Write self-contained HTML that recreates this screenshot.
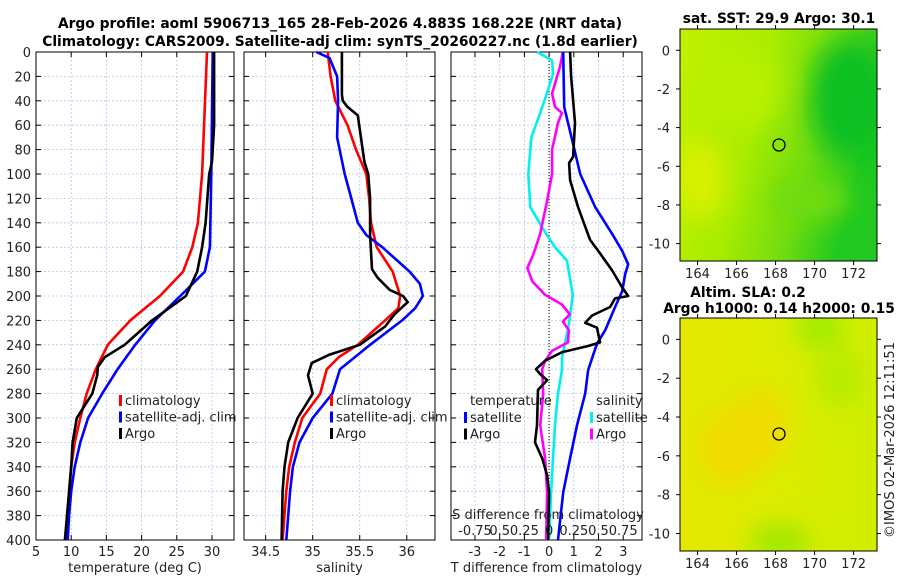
<!DOCTYPE html>
<html><head><meta charset="utf-8"><style>
body{margin:0;background:#fff}
svg{display:block;font-family:"DejaVu Sans","Liberation Sans",sans-serif}
.t{font-size:13px;fill:#222}
.b{font-size:13.8px;font-weight:bold;fill:#000}
</style></head><body>
<svg id="c" width="900" height="580" viewBox="0 0 900 580">
<defs>
<linearGradient id="sstg" x1="0" y1="0" x2="1" y2="0.3">
<stop offset="0" stop-color="#c4f000"/><stop offset="0.45" stop-color="#a8ec00"/><stop offset="0.75" stop-color="#70dc10"/><stop offset="1" stop-color="#20c820"/></linearGradient>
<linearGradient id="slag" x1="0" y1="0" x2="1" y2="0"><stop offset="0" stop-color="#e4e800"/><stop offset="0.5" stop-color="#dcec00"/><stop offset="1" stop-color="#d0ee00"/></linearGradient>
<filter id="bl"><feGaussianBlur stdDeviation="12"/></filter>
</defs>
<text class="b" x="340" y="28" text-anchor="middle">Argo profile: aoml 5906713_165 28-Feb-2026 4.883S 168.22E (NRT data)</text>
<text class="b" x="340" y="46" text-anchor="middle">Climatology: CARS2009. Satellite-adj clim: synTS_20260227.nc (1.8d earlier)</text>
<g id="p1"></g>
<g id="p2"></g>
<g id="p3"></g>
<g>
<text class="b" x="779" y="23" text-anchor="middle">sat. SST: 29.9 Argo: 30.1</text>
<svg x="680" y="29" width="197" height="232">
<rect width="197" height="232" fill="url(#sstg)"/>
<g filter="url(#bl)"><ellipse cx="20" cy="150" rx="25" ry="40" fill="#d8f000"/><ellipse cx="170" cy="70" rx="40" ry="60" fill="#10c020"/><ellipse cx="130" cy="170" rx="40" ry="20" fill="#70dc10"/><ellipse cx="60" cy="60" rx="40" ry="40" fill="#b8f000"/></g>
</svg>
<rect x="680" y="29" width="197" height="232" fill="none" stroke="#000"/>
<circle cx="779" cy="145" r="6" fill="none" stroke="#000" stroke-width="1.3"/>
<g id="m1ax"></g>
</g>
<g>
<text class="b" x="748" y="297" text-anchor="middle">Altim. SLA: 0.2</text>
<text class="b" x="779" y="313" text-anchor="middle">Argo h1000: 0.14 h2000: 0.15</text>
<svg x="680" y="318" width="197" height="233">
<rect width="197" height="233" fill="url(#slag)"/>
<g filter="url(#bl)"><ellipse cx="50" cy="130" rx="30" ry="40" fill="#f0dc00"/><ellipse cx="140" cy="10" rx="25" ry="20" fill="#a0ec00"/><ellipse cx="160" cy="60" rx="25" ry="30" fill="#b8ec00"/><ellipse cx="100" cy="225" rx="30" ry="20" fill="#a0e800"/><ellipse cx="80" cy="110" rx="30" ry="40" fill="#f0dc00"/></g>
</svg>
<rect x="680" y="318" width="197" height="233" fill="none" stroke="#000"/>
<circle cx="779" cy="434" r="6" fill="none" stroke="#000" stroke-width="1.3"/>
<g id="m2ax"></g>
</g>
<text class="t" transform="translate(894,440) rotate(-90)" text-anchor="middle">©IMOS 02-Mar-2026 12:11:51</text>
</svg>
<script>
// temperature panel data
const tRedDepth=[0,100,140,160,180,200,220,240,260,280,300,320,340,360,380,400];
const tRedVal=[29.3,28.6,28.0,27.2,25.9,22.6,18.4,15.2,13.5,12.2,11.3,10.5,10.0,9.7,9.5,9.3];
const tBlueDepth=[0,100,160,180,200,220,240,260,280,300,320,340,360,380,400];
const tBlueVal=[30.1,29.9,29.7,29.0,25.5,21.9,19.1,16.6,14.4,12.4,11.3,10.5,10.0,9.7,9.5];
const tArgoDepth=[0,60,90,100,140,160,180,200,220,240,250,258,265,280,300,320,340,360,400];
const tArgoVal=[30.3,30.3,30.0,29.6,29.1,28.6,27.9,26.3,21.5,17.6,14.8,13.8,13.7,13.0,10.8,10.2,10.0,9.7,9.1];
// salinity panel data
const sRedDepth=[0,20,40,60,80,100,120,140,160,180,200,210,220,240,250,260,280,300,320,340,360,400];
const sRedVal=[35.16,35.19,35.24,35.37,35.46,35.57,35.60,35.62,35.68,35.85,35.93,35.91,35.77,35.48,35.28,35.15,35.08,34.89,34.81,34.75,34.72,34.68];
const sBlueDepth=[0,5,20,40,70,100,120,140,150,160,180,190,200,210,220,240,260,280,300,320,340,360,400];
const sBlueVal=[35.04,35.18,35.26,35.27,35.26,35.34,35.41,35.48,35.57,35.74,36.03,36.14,36.17,36.09,35.95,35.61,35.29,35.21,35.0,34.86,34.79,34.76,34.72];
const sArgoDepth=[0,35,40,45,52,90,100,120,150,178,185,195,200,205,215,225,240,248,255,265,280,300,320,340,360,400];
const sArgoVal=[35.31,35.31,35.32,35.37,35.48,35.55,35.59,35.61,35.61,35.63,35.69,35.82,35.96,36.01,35.87,35.77,35.50,35.18,34.99,34.95,35.0,34.84,34.74,34.70,34.68,34.67];
// difference panel data
const dTSatDepth=[0,45,72,100,127,149,163,174,182,196,209,228,239,251,261,280,306,333,361,400];
const dTSatVal=[0.57,0.61,0.93,1.26,1.86,2.55,2.96,3.2,3.08,2.96,2.67,2.27,1.94,1.74,1.58,1.46,1.13,0.85,0.57,0.36];
const dTArgoDepth=[0,20,58,86,91,105,127,154,165,179,193,200,202,209,216,222,226,238,241,246,253,260,264,269,277,306,320,333,347,361,400];
const dTArgoVal=[0.85,0.89,1.05,0.97,0.81,0.85,1.17,1.66,2.06,2.55,2.96,3.2,2.67,2.47,1.74,1.46,1.94,2.06,1.58,0.53,-0.16,-0.53,-0.36,-0.08,-0.45,-0.49,-0.57,-0.28,-0.08,0,-0.04];
const dSSatDepth=[0,7,18,31,50,70,100,127,144,160,171,199,223,251,261,280,306,333,361,400];
const dSSatVal=[-0.12,0.03,0.04,-0.01,-0.09,-0.18,-0.21,-0.19,-0.07,0.06,0.18,0.24,0.2,0.13,0.13,0.09,0.06,0.04,0.02,0];
const dSArgoDepth=[0,12,34,45,50,58,80,100,122,149,166,177,188,199,207,215,221,228,238,245,253,260,280,306,333,361,400];
const dSArgoVal=[0.14,0.11,0.03,0.06,0.13,0.09,0.03,0.03,-0.02,-0.09,-0.16,-0.22,-0.17,-0.04,0.13,0.21,0.14,0.2,0.19,0.03,-0.04,-0.07,-0.06,-0.09,-0.04,-0.02,-0.03];
// ticks
const depthTicks=[0,20,40,60,80,100,120,140,160,180,200,220,240,260,280,300,320,340,360,380,400];
const tTicks=[5,10,15,20,25,30];
const sTicks=[34.5,35,35.5,36];
const dTicks=[-3,-2,-1,0,1,2,3];
const sdTicks=[-0.75,-0.5,-0.25,0,0.25,0.5,0.75];
const sdTickLabels=["-0.75","0.5","0.25","0","0.25","0.5","0.75"];
const lonTicks=[164,166,168,170,172];
const latTicks=[0,-2,-4,-6,-8,-10];

const NS='http://www.w3.org/2000/svg';
function mk(parent,tag,attrs){const e=document.createElementNS(NS,tag);for(const k in attrs)e.setAttribute(k,attrs[k]);parent.appendChild(e);return e;}
const Y0=52,Y1=540;
const yD=d=>Y0+(d/400)*(Y1-Y0);
function panel(g,x0,x1,v0,v1,ticks,labels,xlabel,showY){
  const xS=v=>x0+(v-v0)/(v1-v0)*(x1-x0);
  for(const t of ticks){const gl=mk(g,'line',{x1:xS(t),x2:xS(t),y1:Y0,y2:Y1,stroke:'#b8c4e8','stroke-width':0.8,'stroke-dasharray':'2,2'});
    }
  for(const d of depthTicks){const gl=mk(g,'line',{x1:x0,x2:x1,y1:yD(d),y2:yD(d),stroke:'#b8c4e8','stroke-width':0.8,'stroke-dasharray':'2,2'});
    
    for(const xx of [[x0,x0+5],[x1-5,x1]]){const tk=mk(g,'line',{x1:xx[0],x2:xx[1],y1:yD(d),y2:yD(d),stroke:'#000'});
    }
    if(showY){const tl=mk(g,'text',{x:x0-5,y:yD(d)+5,'text-anchor':'end',class:'t'});tl.textContent=d;
    }}
  ticks.forEach((t,i)=>{for(const yy of [[Y0,Y0+5],[Y1-5,Y1]]){const tk=mk(g,'line',{x1:xS(t),x2:xS(t),y1:yy[0],y2:yy[1],stroke:'#000'});
    }
    if(labels){const tl=mk(g,'text',{x:xS(t),y:556,'text-anchor':'middle',class:'t'});tl.textContent=labels[i];
    }});
  const xl=mk(g,'text',{x:(x0+x1)/2,y:572,'text-anchor':'middle',class:'t'});xl.textContent=xlabel;
  
  const fr=mk(g,'rect',{x:x0,y:Y0,width:x1-x0,height:Y1-Y0,fill:'none',stroke:'#000'});
  
  return xS;
}
function line(g,xS,depths,vals,color,name){
  const pts=depths.map((d,i)=>xS(vals[i]).toFixed(1)+','+yD(d).toFixed(1)).join(' ');
  const p=mk(g,'polyline',{points:pts,fill:'none',stroke:color,'stroke-width':2.6,'stroke-linejoin':'round'});
  
}
function legend(g,x,y,items){items.forEach((it,i)=>{
  const r=mk(g,'rect',{x:x,y:y+i*16.5-10,width:3,height:11,fill:it[1]});
  
  const t=mk(g,'text',{x:x+6,y:y+i*16.5,class:'t'});t.textContent=it[0];
  });}

const p1=document.getElementById('p1');
const xT=panel(p1,36,234,5,33.13,tTicks,tTicks.map(String),'temperature (deg C)',true);
line(p1,xT,tRedDepth,tRedVal,'#f00','climatology-temperature-line');
line(p1,xT,tBlueDepth,tBlueVal,'#00f','satellite-adj-temperature-line');
line(p1,xT,tArgoDepth,tArgoVal,'#000','argo-temperature-line');
legend(p1,119,405,[['climatology','#f00'],['satellite-adj. clim','#00f'],['Argo','#000']]);

const p2=document.getElementById('p2');
const xS=panel(p2,244,435,34.27,36.30,sTicks,sTicks.map(String),'salinity',false);
line(p2,xS,sRedDepth,sRedVal,'#f00','climatology-salinity-line');
line(p2,xS,sBlueDepth,sBlueVal,'#00f','satellite-adj-salinity-line');
line(p2,xS,sArgoDepth,sArgoVal,'#000','argo-salinity-line');
legend(p2,330,405,[['climatology','#f00'],['satellite-adj. clim','#00f'],['Argo','#000']]);

const p3=document.getElementById('p3');
const xD=panel(p3,451,642,-3.97,3.76,dTicks,dTicks.map(String),'T difference from climatology',false);
const xSD=v=>xD(v*4);
const z=mk(p3,'line',{x1:xD(0),x2:xD(0),y1:Y0,y2:Y1,stroke:'#000','stroke-width':1,'stroke-dasharray':'1,2'});

line(p3,xSD,dSSatDepth,dSSatVal,'#00f0f0','salinity-satellite-diff-line');
line(p3,xSD,dSArgoDepth,dSArgoVal,'#f0f','salinity-argo-diff-line');
line(p3,xD,dTSatDepth,dTSatVal,'#00f','temperature-satellite-diff-line');
line(p3,xD,dTArgoDepth,dTArgoVal,'#000','temperature-argo-diff-line');
{const t=mk(p3,'text',{x:470,y:405,class:'t'});t.textContent='temperature';
const s=mk(p3,'text',{x:596,y:405,class:'t'});s.textContent='salinity';}
legend(p3,464,422,[['satellite','#00f'],['Argo','#000']]);
legend(p3,590,422,[['satellite','#00f0f0'],['Argo','#f0f']]);
{const t=mk(p3,'text',{x:548,y:519,'text-anchor':'middle',class:'t'});t.textContent='S difference from climatology';
}
sdTicks.forEach((v,i)=>{const t=mk(p3,'text',{x:xSD(v),y:535,'text-anchor':'middle',class:'t'});t.textContent=sdTickLabels[i];
});

function mapAxes(id,x0,y0,w,h,latTop,latBot){
  const g=document.getElementById(id);
  const lx=v=>x0+(v-163.1)/(173.2-163.1)*w;
  const ly=v=>y0+(latTop-v)/(latTop-latBot)*h;
  for(const v of lonTicks){for(const yy of [[y0,y0-4],[y0+h,y0+h+4]]){const tk=mk(g,'line',{x1:lx(v),x2:lx(v),y1:yy[0],y2:yy[1],stroke:'#000'});
    }
    const t=mk(g,'text',{x:lx(v),y:y0+h+17,'text-anchor':'middle',class:'t'});t.textContent=v;
    }
  for(const v of latTicks){for(const xx of [[x0,x0-4],[x0+w,x0+w+4]]){const tk=mk(g,'line',{x1:xx[0],x2:xx[1],y1:ly(v),y2:ly(v),stroke:'#000'});
    }
    const t=mk(g,'text',{x:x0-10,y:ly(v)+5,'text-anchor':'end',class:'t'});t.textContent=v;
    }
}
mapAxes('m1ax',680,29,197,232,1.1,-10.9);
mapAxes('m2ax',680,318,197,233,1.1,-10.9);
</script>
</body></html>
